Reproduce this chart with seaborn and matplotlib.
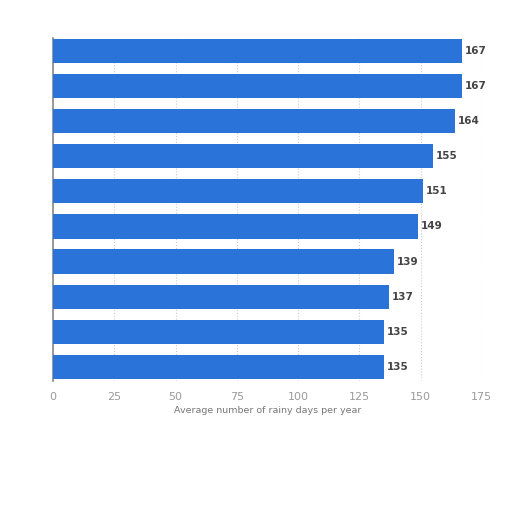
import matplotlib
matplotlib.use("Agg")
import matplotlib.pyplot as plt
import seaborn as sns
import pandas as pd

RANKS = ["#1", "#2", "#3", "#4", "#5", "#6", "#7", "#8", "#9", "#10"]
RAINY_DAYS = [167, 167, 164, 155, 151, 149, 139, 137, 135, 135]
X_TICKS = [0, 25, 50, 75, 100, 125, 150, 175]

df = pd.DataFrame({"rank": RANKS, "days": RAINY_DAYS})

sns.set_theme(style="white")
plt.rcParams["font.family"] = ["DejaVu Sans"]

fig = plt.figure(figsize=(5.12, 5.12), dpi=100)
ax = fig.add_axes([0.1035, 0.256, 0.8375, 0.67])

sns.barplot(data=df, x="days", y="rank", color="#2a73d9", width=0.69,
            saturation=1, ax=ax, zorder=3, edgecolor="none")

ax.set_xlim(0, 175)
ax.set_ylim(9.4, -0.37)
ax.set_xticks(X_TICKS)
ax.set_xticklabels([str(t) for t in X_TICKS], color="#9a9a9a", fontsize=8)
ax.tick_params(axis="x", length=0, pad=8)
ax.set_yticks([])
ax.set_ylabel("")
ax.set_xlabel("Average number of rainy days per year", color="#777777",
              fontsize=6.8, labelpad=3)
ax.grid(axis="x", linestyle=":", color="#cccccc", linewidth=0.8, zorder=0)

for s in ["top", "right", "bottom"]:
    ax.spines[s].set_visible(False)
ax.spines["left"].set_color("#888888")
ax.spines["left"].set_linewidth(1.2)

for i, v in enumerate(RAINY_DAYS):
    ax.text(v + 1.2, i, str(v), va="center", ha="left", fontsize=7.5,
            fontweight="bold", color="#444444")

fig.savefig("out.png", dpi=100)
